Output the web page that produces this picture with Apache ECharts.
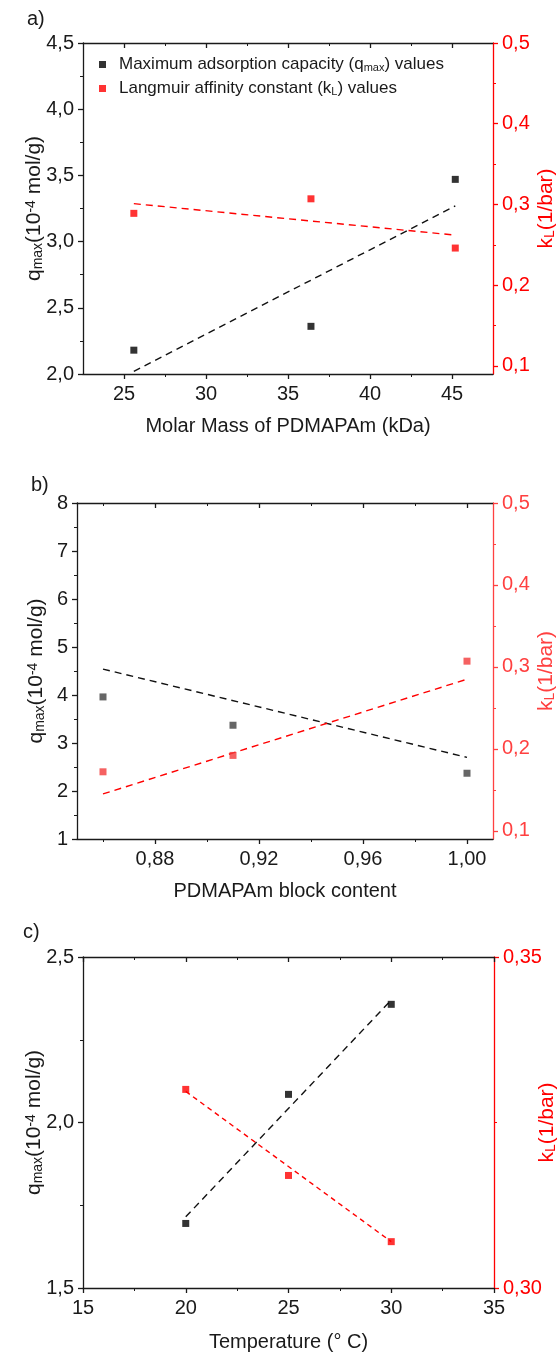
<!DOCTYPE html>
<html>
<head>
<meta charset="utf-8">
<script src="https://cdn.jsdelivr.net/npm/echarts@6/dist/echarts.min.js"></script>
<style>
  html, body { margin: 0; padding: 0; background: #fff; }
  #chart { width: 560px; height: 1354px; }
</style>
</head>
<body>
<div id="chart"></div>
<script>
// a) molar mass of PDMAPAm
const massA = [25.6, 36.4, 45.2];
const qmaxA = [2.18, 2.36, 3.47];
const klA = [0.289, 0.307, 0.246];
const qFitA = [[25.6, 2.02], [45.2, 3.27]];
const kFitA = [[25.6, 0.301], [45.2, 0.262]];

// b) PDMAPAm block content
const blockB = [0.86, 0.91, 1.00];
const qmaxB = [3.96, 3.37, 2.37];
const klB = [0.172, 0.192, 0.307];
const qFitB = [[0.86, 4.54], [1.00, 2.70]];
const kFitB = [[0.86, 0.145], [1.00, 0.285]];

// c) temperature
const tempC = [20, 25, 30];
const qmaxC = [1.695, 2.085, 2.357];
const klC = [0.330, 0.317, 0.307];
const qFitC = [[20, 1.715], [30, 2.37]];
const kFitC = [[20, 0.3297], [30, 0.307]];

// tick values
const xTicksA = [25, 30, 35, 40, 45];
const xMinorA = [27.5, 32.5, 37.5, 42.5];
const qTicksA = [2.0, 2.5, 3.0, 3.5, 4.0, 4.5];
const qMinorA = [2.25, 2.75, 3.25, 3.75, 4.25];
const kTicksA = [0.1, 0.2, 0.3, 0.4, 0.5];
const kMinorA = [0.15, 0.25, 0.35, 0.45];

const xTicksB = [0.88, 0.92, 0.96, 1.00];
const xMinorB = [0.86, 0.90, 0.94, 0.98];
const qTicksB = [1, 2, 3, 4, 5, 6, 7, 8];
const qMinorB = [1.5, 2.5, 3.5, 4.5, 5.5, 6.5, 7.5];
const kTicksB = [0.1, 0.2, 0.3, 0.4, 0.5];
const kMinorB = [0.15, 0.25, 0.35, 0.45];

const xTicksC = [15, 20, 25, 30, 35];
const xMinorC = [17.5, 22.5, 27.5, 32.5];
const qTicksC = [1.5, 2.0, 2.5];
const qMinorC = [1.75, 2.25];
const kTicksC = [0.30, 0.35];
const kMinorC = [0.325];

const FONT = '"Liberation Sans", Arial, sans-serif';
const INK = '#1a1a1a';
const RED = '#ff0000';

const comma = d => v => v.toFixed(d).replace('.', ',');

const qName = '{t|q}{s|max}{t|(10}{p|-4}{t| mol/g)}';
const kName = '{t|k}{s|L}{t|(1/bar)}';
const nameRich = color => ({
  t: { fontSize: 21, fontFamily: FONT, color: color },
  s: { fontSize: 14, fontFamily: FONT, color: color, verticalAlign: 'bottom' },
  p: { fontSize: 14, fontFamily: FONT, color: color, verticalAlign: 'top' }
});

const chart = echarts.init(document.getElementById('chart'));

const grids = [
  { left: 83, top: 43, width: 410, height: 331, outerBoundsMode: 'none' },
  { left: 77, top: 503, width: 416, height: 336, outerBoundsMode: 'none' },
  { left: 83, top: 957, width: 411, height: 331, outerBoundsMode: 'none' }
];

const xAxis = [];
const yAxis = [];

function addX(g, o) {
  const base = { type: 'value', gridIndex: g, min: o.min, max: o.max, splitLine: { show: false }, silent: true };
  const idx = xAxis.length;
  xAxis.push(Object.assign({}, base, {
    position: 'bottom',
    name: o.name, nameLocation: 'middle', nameGap: o.gap, nameMoveOverlap: false,
    nameTextStyle: { fontSize: 20, fontFamily: FONT, color: INK },
    axisLine: { onZero: false, lineStyle: { color: INK, width: 1.3 } },
    axisTick: { length: 5, customValues: o.major, lineStyle: { color: INK, width: 1.3 } },
    axisLabel: { customValues: o.major, formatter: o.fmt, margin: 10, fontSize: 20, fontFamily: FONT, color: INK }
  }));
  xAxis.push(Object.assign({}, base, {
    position: 'bottom',
    axisLine: { show: false },
    axisTick: { length: 3, customValues: o.minor, lineStyle: { color: INK, width: 1 } },
    axisLabel: { show: false }
  }));
  xAxis.push(Object.assign({}, base, {
    position: 'top',
    axisLine: { onZero: false, lineStyle: { color: INK, width: 1.3 } },
    axisTick: { inside: true, length: 5, customValues: o.major, lineStyle: { color: INK, width: 1.3 } },
    axisLabel: { show: false }
  }));
  xAxis.push(Object.assign({}, base, {
    position: 'top',
    axisLine: { show: false },
    axisTick: { inside: true, length: 3, customValues: o.minor, lineStyle: { color: INK, width: 1 } },
    axisLabel: { show: false }
  }));
  return idx;
}

function addY(g, o) {
  const base = { type: 'value', gridIndex: g, min: o.min, max: o.max, position: o.side, splitLine: { show: false }, silent: true };
  const idx = yAxis.length;
  yAxis.push(Object.assign({}, base, {
    name: o.name, nameLocation: 'middle', nameGap: o.gap, nameRotate: 90, nameMoveOverlap: false,
    nameTextStyle: { rich: nameRich(o.color) },
    axisLine: { onZero: false, lineStyle: { color: o.color, width: 1.3 } },
    axisTick: { length: 5, customValues: o.major, lineStyle: { color: o.color, width: 1.3 } },
    axisLabel: { customValues: o.major, formatter: o.fmt, margin: 9, fontSize: 20, fontFamily: FONT, color: o.color }
  }));
  yAxis.push(Object.assign({}, base, {
    axisLine: { show: false },
    axisTick: { length: 3, customValues: o.minor, lineStyle: { color: o.color, width: 1 } },
    axisLabel: { show: false }
  }));
  return idx;
}

const panels = [
  {
    x: { min: 22.5, max: 47.5, major: xTicksA, minor: xMinorA, fmt: comma(0), name: 'Molar Mass of PDMAPAm (kDa)', gap: 42 },
    q: { min: 2.0, max: 4.5, major: qTicksA, minor: qMinorA, fmt: comma(1), gap: 38 },
    k: { min: 0.09, max: 0.5, major: kTicksA, minor: kMinorA, fmt: comma(1), gap: 43 },
    xs: massA, qs: qmaxA, ks: klA, qFit: qFitA, kFit: kFitA,
    black: '#000', redPt: RED, redAxis: RED
  },
  {
    x: { min: 0.85, max: 1.01, major: xTicksB, minor: xMinorB, fmt: comma(2), name: 'PDMAPAm block content', gap: 42 },
    q: { min: 1, max: 8, major: qTicksB, minor: qMinorB, fmt: comma(0), gap: 30 },
    k: { min: 0.09, max: 0.5, major: kTicksB, minor: kMinorB, fmt: comma(1), gap: 43 },
    xs: blockB, qs: qmaxB, ks: klB, qFit: qFitB, kFit: kFitB,
    black: '#404040', redPt: '#f23a3a', redAxis: '#ff4040'
  },
  {
    x: { min: 15, max: 35, major: xTicksC, minor: xMinorC, fmt: comma(0), name: 'Temperature (° C)', gap: 44 },
    q: { min: 1.5, max: 2.5, major: qTicksC, minor: qMinorC, fmt: comma(1), gap: 38 },
    k: { min: 0.30, max: 0.35, major: kTicksC, minor: kMinorC, fmt: comma(2), gap: 43 },
    xs: tempC, qs: qmaxC, ks: klC, qFit: qFitC, kFit: kFitC,
    black: '#000', redPt: RED, redAxis: RED
  }
];

const series = [];
panels.forEach((p, g) => {
  const xi = addX(g, p.x);
  const qi = addY(g, Object.assign({ side: 'left', color: INK, name: qName }, p.q));
  const ki = addY(g, Object.assign({ side: 'right', color: p.redAxis, name: kName }, p.k));
  series.push({
    type: 'line', xAxisIndex: xi, yAxisIndex: qi, data: p.qFit, symbol: 'none', z: 2,
    lineStyle: { color: '#111', width: 1.4, type: [7, 5] }
  });
  series.push({
    type: 'line', xAxisIndex: xi, yAxisIndex: ki, data: p.kFit, symbol: 'none', z: 2,
    lineStyle: { color: RED, width: 1.4, type: g === 2 ? [5, 4] : [7, 5] }
  });
  series.push({
    name: 'qmax' + g, type: 'scatter', xAxisIndex: xi, yAxisIndex: qi, z: 3,
    symbol: 'rect', symbolSize: 7, itemStyle: { color: p.black },
    data: p.xs.map((x, i) => [x, p.qs[i]])
  });
  series.push({
    name: 'kL' + g, type: 'scatter', xAxisIndex: xi, yAxisIndex: ki, z: 3,
    symbol: 'rect', symbolSize: 7, itemStyle: { color: p.redPt },
    data: p.xs.map((x, i) => [x, p.ks[i]])
  });
});

const panelLabel = (text, x, y) => ({
  type: 'text', left: x, top: y,
  style: { text: text, fontSize: 20, fontFamily: FONT, fill: INK }
});

chart.setOption({
  animation: false,
  backgroundColor: '#fff',
  grid: grids,
  xAxis: xAxis,
  yAxis: yAxis,
  legend: {
    data: ['qmax0', 'kL0'],
    orient: 'vertical', left: 94, top: 51,
    icon: 'rect', itemWidth: 7, itemHeight: 7, itemGap: 7,
    formatter: name => name === 'qmax0'
      ? 'Maximum adsorption capacity (q{s|max}) values'
      : 'Langmuir affinity constant (k{s|L}) values',
    textStyle: {
      fontSize: 17, fontFamily: FONT, color: INK, padding: [0, 0, 0, 8],
      rich: { s: { fontSize: 11, fontFamily: FONT, color: INK, verticalAlign: 'bottom' } }
    }
  },
  graphic: [
    panelLabel('a)', 27, 9),
    panelLabel('b)', 31, 475),
    panelLabel('c)', 23, 922)
  ],
  series: series
});
</script>
</body>
</html>
